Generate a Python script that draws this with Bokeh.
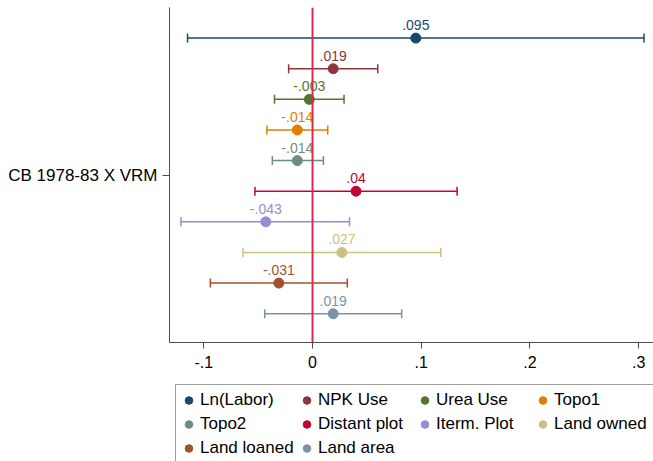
from bokeh.plotting import figure
from bokeh.layouts import column
from bokeh.models import (Range1d, FixedTicker, Span, Legend, LegendItem,
                          ColumnDataSource, Whisker, TeeHead)
from bokeh.core.properties import value
from bokeh.embed import file_html
from bokeh.resources import INLINE

# Coefficients with 95% confidence intervals, one row per regressor
labels = ["Ln(Labor)", "NPK Use", "Urea Use", "Topo1", "Topo2",
          "Distant plot", "Iterm. Plot", "Land owned", "Land loaned", "Land area"]
coef = [0.095, 0.019, -0.003, -0.014, -0.014, 0.040, -0.043, 0.027, -0.031, 0.019]
lower = [-0.115, -0.022, -0.035, -0.042, -0.037, -0.053, -0.121, -0.064, -0.094, -0.044]
upper = [0.305, 0.060, 0.029, 0.014, 0.010, 0.133, 0.034, 0.118, 0.032, 0.082]
value_text = [".095", ".019", "-.003", "-.014", "-.014", ".04", "-.043", ".027", "-.031", ".019"]
colors = ["#1a476f", "#90353b", "#55752f", "#e37e00", "#6e8e84",
          "#c10534", "#938dd2", "#cac27e", "#a0522d", "#7b92a8"]

x_ticks = [-0.1, 0.0, 0.1, 0.2, 0.3]
x_tick_labels = ["-.1", "0", ".1", ".2", ".3"]
group_label = "CB 1978-83 X VRM"

FONT = "Liberation Sans"

p = figure(width=653, height=381, output_backend="svg", toolbar_location=None,
           x_range=Range1d(-0.1316, 0.3137), y_range=Range1d(9.94, -1.0),
           min_border_left=169, min_border_right=0, min_border_top=7,
           min_border_bottom=39)
p.outline_line_color = None
p.xgrid.visible = False
p.ygrid.visible = False
p.background_fill_color = "white"
p.border_fill_color = "white"

# x axis
p.xaxis.ticker = FixedTicker(ticks=x_ticks)
p.xaxis.major_label_overrides = {t: s for t, s in zip(x_ticks, x_tick_labels)}
p.xaxis.minor_tick_line_color = None
p.xaxis.major_tick_in = 0
p.xaxis.major_tick_out = 6
p.xaxis.major_label_standoff = 7
p.xaxis.major_label_text_font = FONT
p.xaxis.major_label_text_font_size = "16px"
p.xaxis.major_label_text_color = "black"
p.xaxis.axis_line_color = "#4d4d4d"
p.xaxis.major_tick_line_color = "#4d4d4d"

# y axis: a single group tick in the middle of the rows
p.yaxis.ticker = FixedTicker(ticks=[4.5])
p.yaxis.major_label_overrides = {4.5: group_label}
p.yaxis.minor_tick_line_color = None
p.yaxis.major_tick_in = 0
p.yaxis.major_tick_out = 7
p.yaxis.major_label_standoff = 5
p.yaxis.major_label_text_font = FONT
p.yaxis.major_label_text_font_size = "17px"
p.yaxis.major_label_text_color = "black"
p.yaxis.axis_line_color = "#4d4d4d"
p.yaxis.major_tick_line_color = "#4d4d4d"

# reference line at zero
p.add_layout(Span(location=0, dimension="height", line_color="#d22c4f", line_width=2))

for i, (c, lo, hi, txt, col) in enumerate(zip(coef, lower, upper, value_text, colors)):
    src = ColumnDataSource(dict(y=[i], x=[c], lo=[lo], hi=[hi], t=[txt]))
    w = Whisker(source=src, base="y", lower="lo", upper="hi", dimension="width",
                line_color=col, line_width=1.5,
                lower_head=TeeHead(size=9, line_color=col, line_width=1.5),
                upper_head=TeeHead(size=9, line_color=col, line_width=1.5))
    p.add_layout(w)
    p.scatter("x", "y", source=src, size=10, color=col)
    p.text("x", "y", text="t", source=src, text_color=col, text_font=value(FONT),
           text_font_size="14px", text_align="center", text_baseline="bottom",
           y_offset=-8)

# legend strip beneath the plot; its proxy markers sit outside its ranges,
# so only the legend swatches are visible
lp = figure(width=653, height=80, output_backend="svg", toolbar_location=None,
            x_range=Range1d(100, 101), y_range=Range1d(100, 101),
            min_border_left=0, min_border_right=0, min_border_top=0,
            min_border_bottom=0)
lp.axis.visible = False
lp.xgrid.visible = False
lp.ygrid.visible = False
lp.outline_line_color = None
lp.border_fill_color = "white"

items = []
for i, (lab, c, col) in enumerate(zip(labels, coef, colors)):
    r = lp.scatter(x=[c], y=[i], size=8, color=col)
    items.append(LegendItem(label=lab, renderers=[r]))

legend = Legend(items=items, ncols=4, orientation="horizontal", location=(6, -3),
                border_line_color="#404040", border_line_width=1,
                padding=3, spacing=0, margin=0,
                glyph_width=19, glyph_height=24, label_height=24,
                label_standoff=2, label_width=97,
                label_text_font=FONT, label_text_font_size="17px",
                label_text_color="black", background_fill_alpha=1)
lp.add_layout(legend, "center")

open("out.html", "w").write(file_html(column(p, lp, spacing=0), INLINE))
